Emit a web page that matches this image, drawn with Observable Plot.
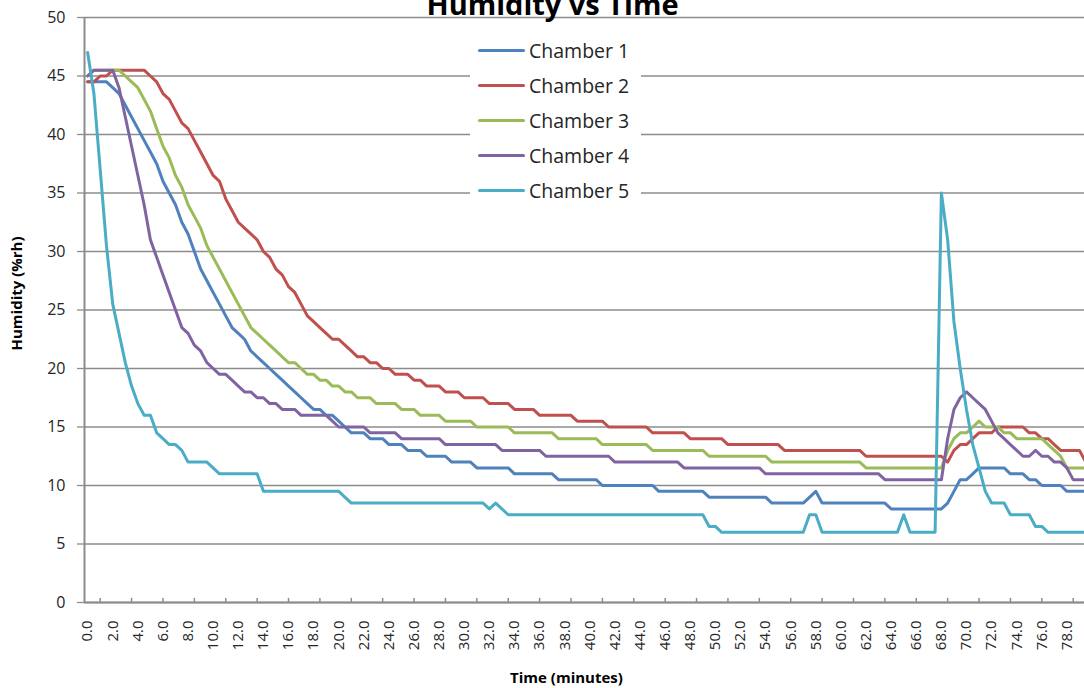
<!DOCTYPE html>
<html>
<head>
<meta charset="utf-8">
<script src="https://cdn.jsdelivr.net/npm/d3@7"></script>
<script src="https://cdn.jsdelivr.net/npm/@observablehq/plot@0.6"></script>
<style>
  html, body { margin: 0; padding: 0; background: #fff; overflow: hidden; }
  #wrap { position: relative; width: 1084px; height: 688px; font-family: "Open Sans", sans-serif; }
  #legend { position: absolute; left: 470px; top: 22px; width: 171px; height: 186px; background: #fff; }
  .row { position: absolute; left: 0; height: 35px; display: flex; align-items: center; }
  .sw { display: inline-block; width: 47px; height: 3px; margin-left: 8px; margin-right: 4px; border-radius: 1.5px; }
  .lab { font-size: 19.5px; color: #262626; white-space: nowrap; }
</style>
</head>
<body>
<div id="wrap"></div>
<script>
// ---- data (time in minutes, humidity in %rh) ----
const chamberNames = ["Chamber 1", "Chamber 2", "Chamber 3", "Chamber 4", "Chamber 5"];
const chamberColors = ["#4F81BD", "#C0504D", "#9BBB59", "#8064A2", "#4BACC6"];
const yTicks = [0, 5, 10, 15, 20, 25, 30, 35, 40, 45, 50];
const timeLabels = [0,2,4,6,8,10,12,14,16,18,20,22,24,26,28,30,32,34,36,38,40,42,44,46,48,50,52,54,56,58,60,62,64,66,68,70,72,74,76,78];

const chamber1 = [[0,44.5],[1.5,44.5],[2,44],[2.5,43.5],[3,42.5],[3.5,41.5],[4,40.5],[4.5,39.5],[5,38.5],[5.5,37.5],[6,36],[6.5,35],[7,34],[7.5,32.5],[8,31.5],[8.5,30],[9,28.5],[9.5,27.5],[10,26.5],[10.5,25.5],[11,24.5],[11.5,23.5],[12,23],[12.5,22.5],[13,21.5],[13.5,21],[14,20.5],[14.5,20],[15,19.5],[15.5,19],[16,18.5],[16.5,18],[17,17.5],[17.5,17],[18,16.5],[18.5,16.5],[19,16],[19.5,16],[20,15.5],[20.5,15],[21,14.5],[22,14.5],[22.5,14],[23.5,14],[24,13.5],[25,13.5],[25.5,13],[26.5,13],[27,12.5],[28.5,12.5],[29,12],[30.5,12],[31,11.5],[33.5,11.5],[34,11],[37,11],[37.5,10.5],[40.5,10.5],[41,10],[45,10],[45.5,9.5],[49,9.5],[49.5,9],[54,9],[54.5,8.5],[57,8.5],[58,9.5],[58.5,8.5],[63.5,8.5],[64,8],[68,8],[68.5,8.5],[69,9.5],[69.5,10.5],[70,10.5],[70.5,11],[71,11.5],[73,11.5],[73.5,11],[74.5,11],[75,10.5],[75.5,10.5],[76,10],[77.5,10],[78,9.5],[79.5,9.5]];

const chamber2 = [[0,44.5],[0.5,44.5],[1,45],[1.5,45],[2,45.5],[4.5,45.5],[5,45],[5.5,44.5],[6,43.5],[6.5,43],[7,42],[7.5,41],[8,40.5],[8.5,39.5],[9,38.5],[9.5,37.5],[10,36.5],[10.5,36],[11,34.5],[11.5,33.5],[12,32.5],[12.5,32],[13,31.5],[13.5,31],[14,30],[14.5,29.5],[15,28.5],[15.5,28],[16,27],[16.5,26.5],[17,25.5],[17.5,24.5],[18,24],[18.5,23.5],[19,23],[19.5,22.5],[20,22.5],[20.5,22],[21,21.5],[21.5,21],[22,21],[22.5,20.5],[23,20.5],[23.5,20],[24,20],[24.5,19.5],[25.5,19.5],[26,19],[26.5,19],[27,18.5],[28,18.5],[28.5,18],[29.5,18],[30,17.5],[31.5,17.5],[32,17],[33.5,17],[34,16.5],[35.5,16.5],[36,16],[38.5,16],[39,15.5],[41,15.5],[41.5,15],[44.5,15],[45,14.5],[47.5,14.5],[48,14],[50.5,14],[51,13.5],[55,13.5],[55.5,13],[61.5,13],[62,12.5],[68,12.5],[68.5,12],[69,13],[69.5,13.5],[70,13.5],[70.5,14],[71,14.5],[72,14.5],[72.5,15],[74.5,15],[75,14.5],[75.5,14.5],[76,14],[76.5,14],[77,13.5],[77.5,13],[79,13],[79.5,12]];

const chamber3 = [[0,45],[0.5,45.5],[2.5,45.5],[3,45],[3.5,44.5],[4,44],[4.5,43],[5,42],[5.5,40.5],[6,39],[6.5,38],[7,36.5],[7.5,35.5],[8,34],[8.5,33],[9,32],[9.5,30.5],[10,29.5],[10.5,28.5],[11,27.5],[11.5,26.5],[12,25.5],[12.5,24.5],[13,23.5],[13.5,23],[14,22.5],[14.5,22],[15,21.5],[15.5,21],[16,20.5],[16.5,20.5],[17,20],[17.5,19.5],[18,19.5],[18.5,19],[19,19],[19.5,18.5],[20,18.5],[20.5,18],[21,18],[21.5,17.5],[22.5,17.5],[23,17],[24.5,17],[25,16.5],[26,16.5],[26.5,16],[28,16],[28.5,15.5],[30.5,15.5],[31,15],[33.5,15],[34,14.5],[37,14.5],[37.5,14],[40.5,14],[41,13.5],[44.5,13.5],[45,13],[49,13],[49.5,12.5],[54,12.5],[54.5,12],[61.5,12],[62,11.5],[68,11.5],[68.5,13],[69,14],[69.5,14.5],[70,14.5],[70.5,15],[71,15.5],[71.5,15],[72.5,15],[73,14.5],[73.5,14.5],[74,14],[76,14],[76.5,13.5],[77,13],[77.5,12.5],[78,11.5],[79.5,11.5]];

const chamber4 = [[0,45],[0.5,45.5],[2,45.5],[2.5,44],[3,41.5],[3.5,39],[4,36.5],[4.5,34],[5,31],[5.5,29.5],[6,28],[6.5,26.5],[7,25],[7.5,23.5],[8,23],[8.5,22],[9,21.5],[9.5,20.5],[10,20],[10.5,19.5],[11,19.5],[11.5,19],[12,18.5],[12.5,18],[13,18],[13.5,17.5],[14,17.5],[14.5,17],[15,17],[15.5,16.5],[16.5,16.5],[17,16],[19,16],[19.5,15.5],[20,15],[22,15],[22.5,14.5],[24.5,14.5],[25,14],[28,14],[28.5,13.5],[32.5,13.5],[33,13],[36,13],[36.5,12.5],[41.5,12.5],[42,12],[47,12],[47.5,11.5],[53.5,11.5],[54,11],[63,11],[63.5,10.5],[68,10.5],[68.5,14],[69,16.5],[69.5,17.5],[70,18],[70.5,17.5],[71,17],[71.5,16.5],[72,15.5],[72.5,14.5],[73,14],[73.5,13.5],[74,13],[74.5,12.5],[75,12.5],[75.5,13],[76,12.5],[76.5,12.5],[77,12],[77.5,12],[78,11.5],[78.5,10.5],[79.5,10.5]];

const chamber5 = [[0,47],[0.5,43.5],[1,37],[1.5,30.5],[2,25.5],[2.5,23],[3,20.5],[3.5,18.5],[4,17],[4.5,16],[5,16],[5.5,14.5],[6,14],[6.5,13.5],[7,13.5],[7.5,13],[8,12],[9.5,12],[10.5,11],[13.5,11],[14,9.5],[20,9.5],[21,8.5],[31.5,8.5],[32,8],[32.5,8.5],[33.5,7.5],[49,7.5],[49.5,6.5],[50,6.5],[50.5,6],[57,6],[57.5,7.5],[58,7.5],[58.5,6],[64.5,6],[65,7.5],[65.5,6],[67.5,6],[68,35],[68.5,31],[69,24],[69.5,20],[70,16.5],[70.5,13.5],[71,11.5],[71.5,9.5],[72,8.5],[73,8.5],[73.5,7.5],[75,7.5],[75.5,6.5],[76,6.5],[76.5,6],[79.5,6]];

const chamberData = [chamber1, chamber2, chamber3, chamber4, chamber5];

// ---- build table ----
const rows = chamberData.flatMap((pts, i) =>
  pts.map(([t, v]) => ({chamber: chamberNames[i], time: t, humidity: v})));

const gridColor = "#8c8c8c";
const textColor = "#262626";

const chart = Plot.plot({
  width: 1084,
  height: 688,
  marginLeft: 84,
  marginRight: 0,
  marginTop: 17,
  marginBottom: 86,
  style: {fontFamily: "Open Sans, sans-serif", background: "#fff", overflow: "hidden"},
  x: {domain: [-0.25, 79.4]},
  y: {domain: [0, 50]},
  color: {domain: chamberNames, range: chamberColors},
  marks: [
    Plot.gridY(yTicks, {stroke: gridColor, strokeOpacity: 1, strokeWidth: 1.3}),
    Plot.axisY(yTicks, {tickSize: 7, tickPadding: 12, fontSize: 16, stroke: gridColor, strokeWidth: 1.3, fill: textColor, label: null}),
    Plot.axisX(timeLabels, {tickSize: 0, tickPadding: 18, tickRotate: -90, fontSize: 15, fill: textColor,
      tickFormat: d => d.toFixed(1), label: null}),
    Plot.ruleX(d3.range(1, 79.4, 2.5), {y1: 0, y2: 0.35, stroke: gridColor, strokeWidth: 1.5}),
    Plot.ruleY([0], {stroke: gridColor, strokeWidth: 2}),
    Plot.ruleX([-0.25], {stroke: gridColor, strokeWidth: 2}),
    Plot.line(rows, {x: "time", y: "humidity", z: "chamber", stroke: "chamber", strokeWidth: 3,
      strokeLinejoin: "round", strokeLinecap: "round", clip: true}),
    Plot.text(["Humidity vs Time"], {frameAnchor: "top", lineAnchor: "middle", textAnchor: "middle",
      dx: -32, dy: -11.5, fontSize: 29, fontWeight: "bold", fill: "#000"}),
    Plot.text(["Humidity (%rh)"], {frameAnchor: "left", lineAnchor: "middle", textAnchor: "middle", rotate: -90,
      dx: -67, dy: -16.5, fontSize: 15, fontWeight: "bold", fill: "#000"}),
    Plot.text(["Time (minutes)"], {frameAnchor: "bottom", lineAnchor: "middle", textAnchor: "middle",
      dx: -18, dy: 76, fontSize: 15, fontWeight: "bold", fill: "#000"})
  ]
});

const wrap = document.getElementById("wrap");
wrap.appendChild(chart);

// ---- legend ----
const legend = document.createElement("div");
legend.id = "legend";
chamberNames.forEach((name, i) => {
  const row = document.createElement("div");
  row.className = "row";
  row.style.top = (11 + 35 * i) + "px";
  const sw = document.createElement("span");
  sw.className = "sw";
  sw.style.background = chamberColors[i];
  const lab = document.createElement("span");
  lab.className = "lab";
  lab.textContent = name;
  row.appendChild(sw);
  row.appendChild(lab);
  legend.appendChild(row);
});
wrap.appendChild(legend);
</script>
</body>
</html>
